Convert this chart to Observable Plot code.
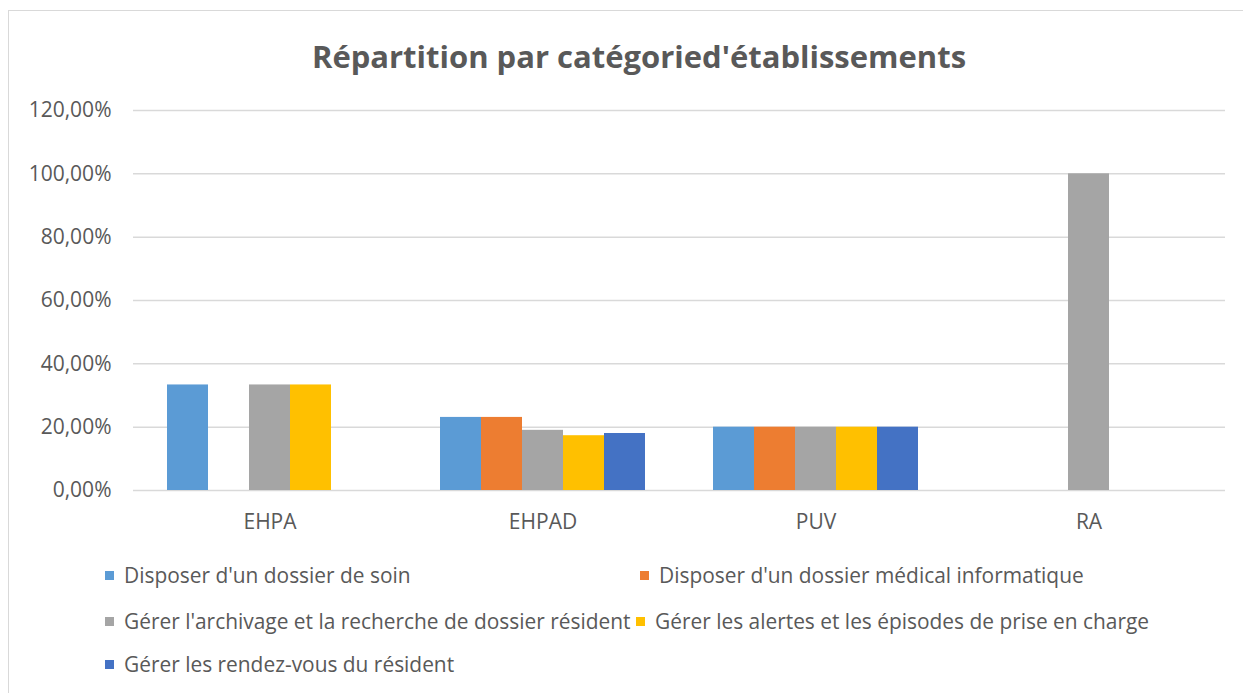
<!DOCTYPE html>
<html><head><meta charset="utf-8">
<script src="https://cdn.jsdelivr.net/npm/d3@7"></script>
<script src="https://cdn.jsdelivr.net/npm/@observablehq/plot@0.6"></script>
<style>
body{margin:0;background:#fff;font-family:"Open Sans",sans-serif;}
#wrap{position:relative;width:1243px;height:693px;overflow:hidden;background:#fff;}
#frame{position:absolute;left:8px;top:10px;width:1250px;height:700px;border:1.5px solid #d9d9d9;box-sizing:border-box;}
#title{position:absolute;top:36px;left:0;width:1278px;text-align:center;font-size:31px;font-weight:700;color:#595959;line-height:40px;}
#chart{position:absolute;left:0;top:90px;}
.leg{position:absolute;display:flex;align-items:center;font-size:20.9px;color:#595959;white-space:nowrap;line-height:26px;}
.leg span.sw{display:inline-block;width:9px;height:9px;margin-right:10px;}
</style></head>
<body>
<div id="wrap">
  <div id="frame"></div>
  <div id="title">Répartition par catégoried'établissements</div>
  <div id="chart"></div>
  <div id="legend"></div>
</div>
<script>
const categories = ["EHPA", "EHPAD", "PUV", "RA"];
const series = [
  "Disposer d'un dossier de soin",
  "Disposer d'un dossier médical informatique",
  "Gérer l'archivage et la recherche de dossier résident",
  "Gérer les alertes et les épisodes de prise en charge",
  "Gérer les rendez-vous du résident"
];
const colors = ["#5B9BD5", "#ED7D31", "#A5A5A5", "#FFC000", "#4472C4"];
// values (%) per series, in category order
const dossierSoin     = [33.33, 23.08, 20, null];
const dossierMedical  = [null, 23.08, 20, null];
const archivage       = [33.33, 19.0, 20, 100];
const alertes         = [33.33, 17.3, 20, null];
const rendezVous      = [null, 18.0, 20, null];
const yTicks = [0, 20, 40, 60, 80, 100, 120];

const seriesValues = [dossierSoin, dossierMedical, archivage, alertes, rendezVous];
const data = [];
seriesValues.forEach((vals, si) => vals.forEach((v, ci) => {
  if (v != null) data.push({cat: categories[ci], serie: series[si], value: v});
}));

const fmt = d => d.toFixed(2).replace(".", ",") + "%";

const chart = Plot.plot({
  width: 1243, height: 460,
  marginLeft: 132, marginRight: 17, marginTop: 20, marginBottom: 60,
  style: {fontFamily: "Open Sans", fontSize: "21px", color: "#595959", background: "transparent", overflow: "visible"},
  fx: {domain: categories, padding: 0, label: null, tickSize: 0, tickPadding: 24, axis: "bottom"},
  x: {domain: series, paddingInner: 0, paddingOuter: 0.762, axis: null},
  y: {domain: [0, 120], ticks: yTicks, tickFormat: fmt, label: null, tickSize: 0, tickPadding: 22},
  color: {domain: series, range: colors},
  marks: [
    Plot.ruleY(yTicks, {stroke: "#d9d9d9", strokeWidth: 1.5}),
    Plot.barY(data, {fx: "cat", x: "serie", y: "value", fill: "serie"})
  ]
});
document.getElementById("chart").appendChild(chart);

const legPos = [
  {x: 105, y: 575}, {x: 640, y: 575},
  {x: 105, y: 621}, {x: 636, y: 621},
  {x: 105, y: 664}
];
const legend = document.getElementById("legend");
series.forEach((s, i) => {
  const d = document.createElement("div");
  d.className = "leg";
  d.style.left = legPos[i].x + "px";
  d.style.top = (legPos[i].y - 13) + "px";
  d.innerHTML = `<span class="sw" style="background:${colors[i]}"></span><span>${s}</span>`;
  legend.appendChild(d);
});
</script>
</body></html>
